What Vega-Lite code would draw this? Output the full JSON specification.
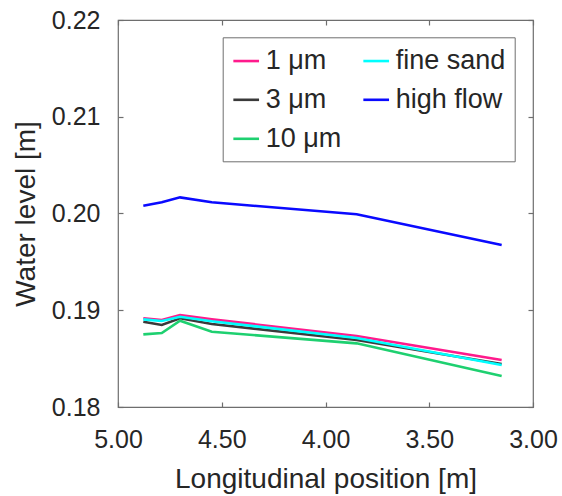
{
  "$schema": "https://vega.github.io/schema/vega-lite/v6.json",
  "autosize": {"type": "none"},
  "padding": {"left": 118, "top": 20, "right": 29, "bottom": 89},
  "width": 415,
  "height": 387,
  "background": "white",
  "config": {
    "font": "Liberation Sans",
    "view": {"stroke": "#6e6e6e", "strokeWidth": 1.2},
    "axis": {
      "labelFont": "Liberation Sans",
      "labelFontSize": 25,
      "labelColor": "#262626",
      "titleFont": "Liberation Sans",
      "titleFontSize": 28,
      "titleFontWeight": "normal",
      "titleColor": "#262626",
      "grid": false,
      "domain": false,
      "ticks": true,
      "tickSize": -5,
      "tickColor": "#6e6e6e",
      "tickWidth": 1.2,
      "labelFlush": false,
      "labelOverlap": false,
      "labelBound": false
    },
    "legend": {
      "labelFont": "Liberation Sans",
      "labelFontSize": 27,
      "labelColor": "#262626",
      "symbolType": "stroke",
      "symbolSize": 660,
      "symbolStrokeWidth": 2.6,
      "strokeColor": "#6e6e6e",
      "fillColor": "white",
      "padding": 9,
      "rowPadding": 11,
      "columnPadding": 16,
      "labelOffset": 5,
      "orient": "none",
      "legendX": 104.7,
      "legendY": 17.3,
      "columns": 2,
      "title": null
    }
  },
  "data": {
    "values": [
      {"series": "1 μm", "x": 4.878, "y": 0.18917},
      {"series": "1 μm", "x": 4.789, "y": 0.18899},
      {"series": "1 μm", "x": 4.701, "y": 0.18951},
      {"series": "1 μm", "x": 4.548, "y": 0.18906},
      {"series": "1 μm", "x": 3.850, "y": 0.18734},
      {"series": "1 μm", "x": 3.151, "y": 0.18486},
      {"series": "3 μm", "x": 4.878, "y": 0.18882},
      {"series": "3 μm", "x": 4.789, "y": 0.18848},
      {"series": "3 μm", "x": 4.701, "y": 0.18917},
      {"series": "3 μm", "x": 4.548, "y": 0.18858},
      {"series": "3 μm", "x": 3.850, "y": 0.18693},
      {"series": "3 μm", "x": 3.151, "y": 0.18445},
      {"series": "10 μm", "x": 4.878, "y": 0.18751},
      {"series": "10 μm", "x": 4.789, "y": 0.18765},
      {"series": "10 μm", "x": 4.701, "y": 0.18892},
      {"series": "10 μm", "x": 4.548, "y": 0.18778},
      {"series": "10 μm", "x": 3.850, "y": 0.18658},
      {"series": "10 μm", "x": 3.151, "y": 0.18320},
      {"series": "fine sand", "x": 4.878, "y": 0.18906},
      {"series": "fine sand", "x": 4.789, "y": 0.18889},
      {"series": "fine sand", "x": 4.701, "y": 0.18933},
      {"series": "fine sand", "x": 4.548, "y": 0.18886},
      {"series": "fine sand", "x": 3.850, "y": 0.18713},
      {"series": "fine sand", "x": 3.151, "y": 0.18434},
      {"series": "high flow", "x": 4.878, "y": 0.20081},
      {"series": "high flow", "x": 4.789, "y": 0.20116},
      {"series": "high flow", "x": 4.701, "y": 0.20167},
      {"series": "high flow", "x": 4.548, "y": 0.20116},
      {"series": "high flow", "x": 3.850, "y": 0.19992},
      {"series": "high flow", "x": 3.151, "y": 0.19674}
    ]
  },
  "layer": [
    {
      "mark": {"type": "line", "strokeWidth": 2.6, "clip": true},
      "encoding": {
        "x": {
          "field": "x", "type": "quantitative",
          "scale": {"domain": [5, 3], "nice": false, "zero": false},
          "axis": {
            "orient": "bottom",
            "values": [5, 4.5, 4, 3.5, 3],
            "format": ".2f",
            "title": "Longitudinal position [m]",
            "labelPadding": 45,
            "titleY": 80,
            "titleBaseline": "alphabetic",
            "labelBaseline": "alphabetic"
          }
        },
        "y": {
          "field": "y", "type": "quantitative",
          "scale": {"domain": [0.18, 0.22], "nice": false, "zero": false},
          "axis": {
            "orient": "left",
            "values": [0.18, 0.19, 0.2, 0.21, 0.22],
            "format": ".2f",
            "title": "Water level [m]",
            "labelPadding": 23,
            "titleX": -84,
            "titleBaseline": "alphabetic"
          }
        },
        "color": {
          "field": "series", "type": "nominal",
          "scale": {
            "domain": ["1 μm", "3 μm", "10 μm", "fine sand", "high flow"],
            "range": ["#ff1a8c", "#3a3a3a", "#1ed070", "#00ffff", "#0a0aff"]
          }
        },
        "order": {"field": "x", "type": "quantitative"}
      }
    },
    {
      "mark": {"type": "line", "opacity": 0},
      "encoding": {
        "x": {
          "field": "x", "type": "quantitative",
          "axis": {"orient": "top", "values": [5, 4.5, 4, 3.5, 3], "labels": false, "title": null}
        },
        "y": {
          "field": "y", "type": "quantitative",
          "axis": {"orient": "right", "values": [0.18, 0.19, 0.2, 0.21, 0.22], "labels": false, "title": null}
        },
        "detail": {"field": "series", "type": "nominal"}
      }
    }
  ],
  "resolve": {"axis": {"x": "independent", "y": "independent"}}
}
